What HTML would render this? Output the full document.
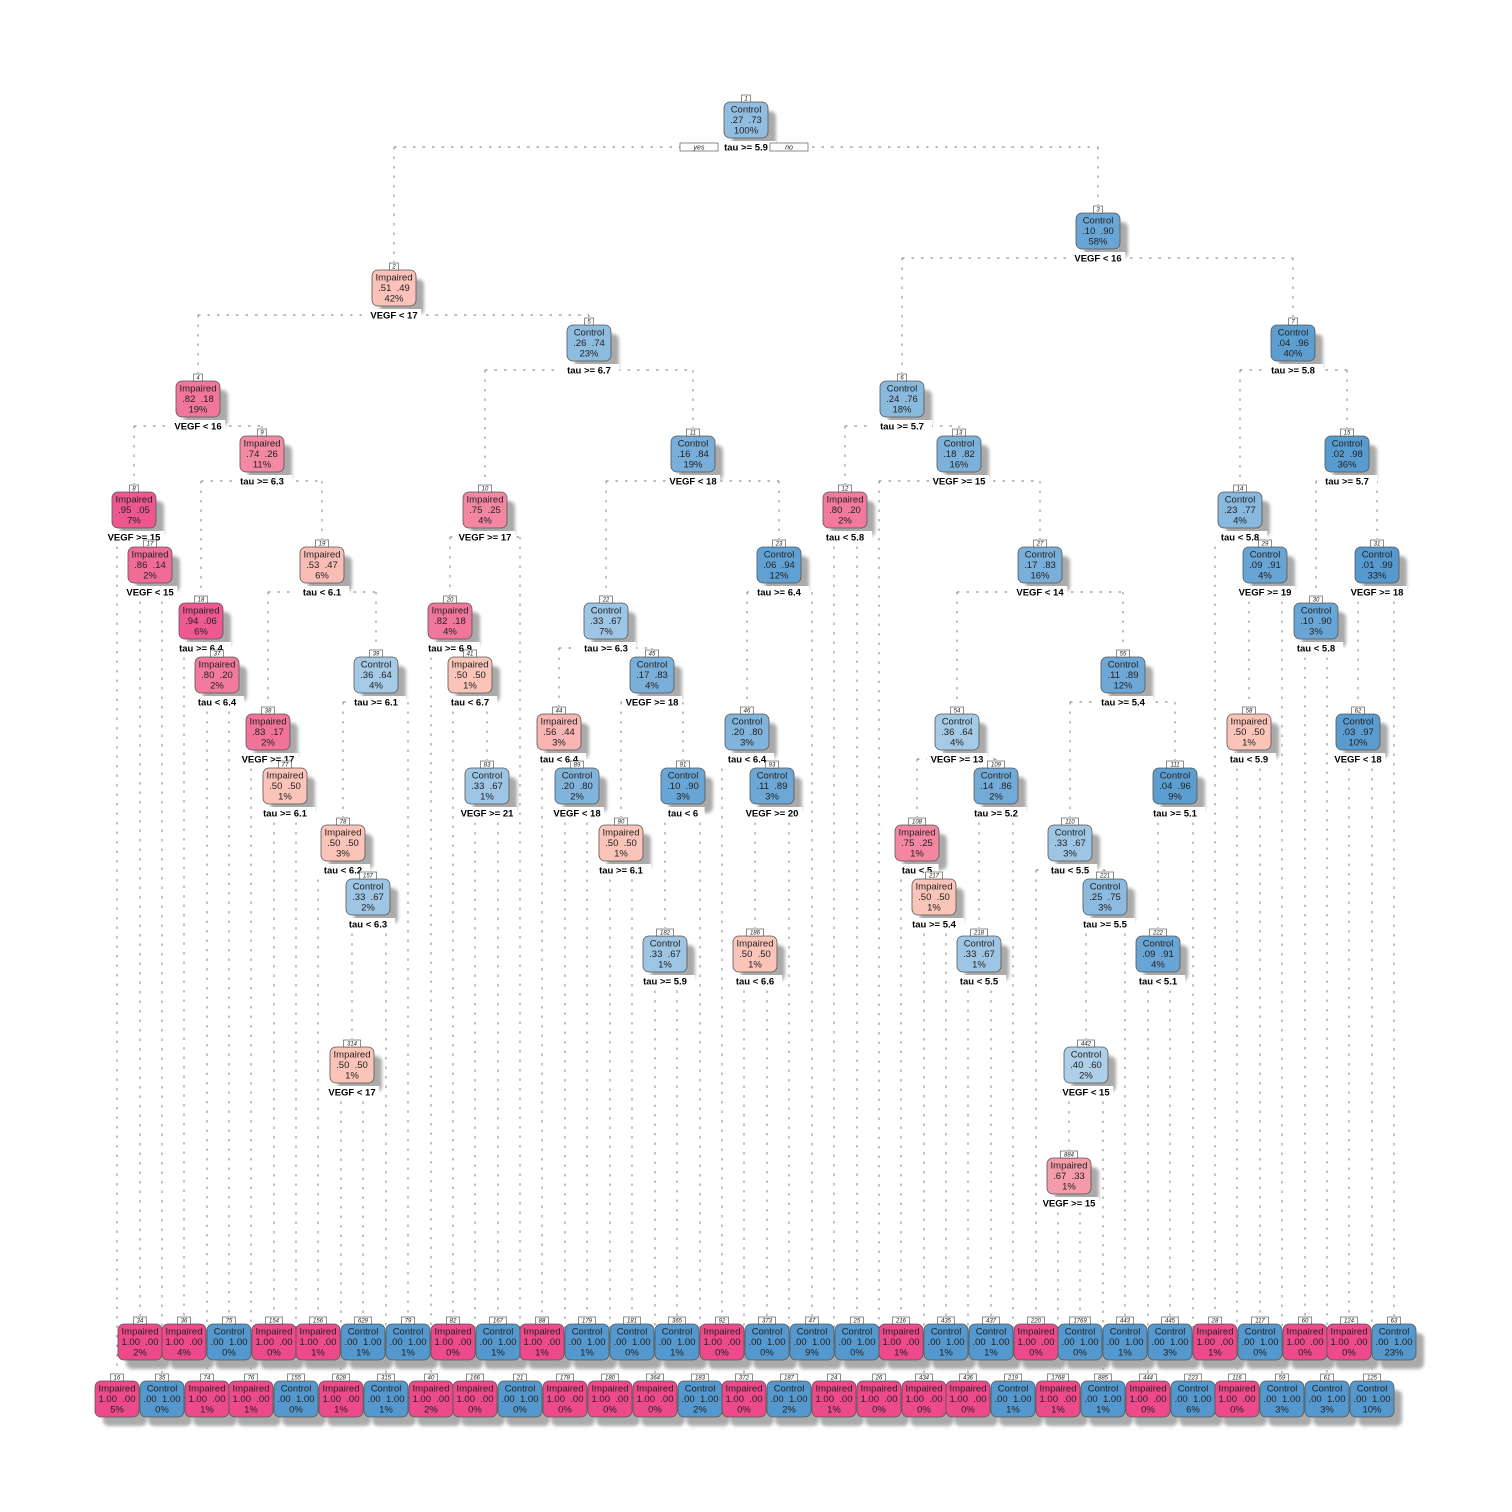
<!DOCTYPE html>
<html><head><meta charset="utf-8">
<style>
html,body{margin:0;padding:0;background:#fff;}
svg{display:block;font-family:"Liberation Sans",sans-serif;}
text{white-space:pre;}
</style></head>
<body>
<svg id="tree" width="1512" height="1512" viewBox="0 0 1512 1512">
<defs><filter id="blur" x="-20%" y="-20%" width="140%" height="140%"><feGaussianBlur stdDeviation="1.5"/></filter></defs>
<g id="edges"></g>
<g id="shadows"></g>
<g id="nodes"></g>
</svg>
<script>
const nodeIds   = [1,2,3,4,5,6,7,8,9,10,11,12,13,14,15,17,18,19,20,23,22,27,29,30,31,37,38,39,41,44,45,46,54,55,58,62,77,78,83,89,90,91,93,108,109,110,111,157,182,186,217,218,221,222,314,442,884];
const nodeClass = ["C","I","C","I","C","C","C","I","I","I","C","I","C","C","C","I","I","I","I","C","C","C","C","C","C","I","I","C","I","I","C","C","C","C","I","C","I","I","C","C","I","C","C","I","C","C","C","C","C","I","I","C","C","C","I","C","I"];
const nodeP1    = [".27",".51",".10",".82",".26",".24",".04",".95",".74",".75",".16",".80",".18",".23",".02",".86",".94",".53",".82",".06",".33",".17",".09",".10",".01",".80",".83",".36",".50",".56",".17",".20",".36",".11",".50",".03",".50",".50",".33",".20",".50",".10",".11",".75",".14",".33",".04",".33",".33",".50",".50",".33",".25",".09",".50",".40",".67"];
const nodeP2    = [".73",".49",".90",".18",".74",".76",".96",".05",".26",".25",".84",".20",".82",".77",".98",".14",".06",".47",".18",".94",".67",".83",".91",".90",".99",".20",".17",".64",".50",".44",".83",".80",".64",".89",".50",".97",".50",".50",".67",".80",".50",".90",".89",".25",".86",".67",".96",".67",".67",".50",".50",".67",".75",".91",".50",".60",".33"];
const nodePct   = ["100%","42%","58%","19%","23%","18%","40%","7%","11%","4%","19%","2%","16%","4%","36%","2%","6%","6%","4%","12%","7%","16%","4%","3%","33%","2%","2%","4%","1%","3%","4%","3%","4%","12%","1%","10%","1%","3%","1%","2%","1%","3%","3%","1%","2%","3%","9%","2%","1%","1%","1%","1%","3%","4%","1%","2%","1%"];
const nodeSplit = ["tau >= 5.9","VEGF < 17","VEGF < 16","VEGF < 16","tau >= 6.7","tau >= 5.7","tau >= 5.8","VEGF >= 15","tau >= 6.3","VEGF >= 17","VEGF < 18","tau < 5.8","VEGF >= 15","tau < 5.8","tau >= 5.7","VEGF < 15","tau >= 6.4","tau < 6.1","tau >= 6.9","tau >= 6.4","tau >= 6.3","VEGF < 14","VEGF >= 19","tau < 5.8","VEGF >= 18","tau < 6.4","VEGF >= 17","tau >= 6.1","tau < 6.7","tau < 6.4","VEGF >= 18","tau < 6.4","VEGF >= 13","tau >= 5.4","tau < 5.9","VEGF < 18","tau >= 6.1","tau < 6.2","VEGF >= 21","VEGF < 18","tau >= 6.1","tau < 6","VEGF >= 20","tau < 5","tau >= 5.2","tau < 5.5","tau >= 5.1","tau < 6.3","tau >= 5.9","tau < 6.6","tau >= 5.4","tau < 5.5","tau >= 5.5","tau < 5.1","VEGF < 17","VEGF < 15","VEGF >= 15"];
const nodeX     = [746,394,1098,198,589,902,1293,134,262,485,693,845,959,1240,1347,150,201,322,450,779,606,1040,1265,1316,1377,217,268,376,470,559,652,747,957,1123,1249,1358,285,343,487,577,621,683,772,917,996,1070,1175,368,665,755,934,979,1105,1158,352,1086,1069];
const nodeY     = [110,278,221,389,333,389,333,500,444,500,444,500,444,500,444,555,611,555,611,555,611,555,555,611,555,665,722,665,665,722,665,722,722,665,722,722,776,833,776,776,833,776,776,833,776,833,776,887,944,944,887,944,887,944,1055,1055,1166];
const leafIds   = [34,36,75,154,156,629,79,82,167,88,179,181,365,92,373,47,25,216,435,437,220,1769,443,445,28,117,60,124,63,
                   16,35,74,76,155,628,315,40,166,21,178,180,364,183,372,187,24,26,434,436,219,1768,885,444,223,116,59,61,125];
const leafClass = ["I","I","C","I","I","C","C","I","C","I","C","C","C","I","C","C","C","I","C","C","I","C","C","C","I","C","I","I","C",
                   "I","C","I","I","C","I","C","I","I","C","I","I","I","C","I","C","I","I","I","I","C","I","C","I","C","I","C","C","C"];
const leafPct   = ["2%","4%","0%","0%","1%","1%","1%","0%","1%","1%","1%","0%","1%","0%","0%","9%","0%","1%","1%","1%","0%","0%","1%","3%","1%","0%","0%","0%","23%",
                   "5%","0%","1%","1%","0%","1%","1%","2%","0%","0%","0%","0%","0%","2%","0%","2%","1%","0%","0%","0%","1%","1%","1%","0%","6%","0%","3%","3%","10%"];
const leafRow   = [0,0,0,0,0,0,0,0,0,0,0,0,0,0,0,0,0,0,0,0,0,0,0,0,0,0,0,0,0,
                   1,1,1,1,1,1,1,1,1,1,1,1,1,1,1,1,1,1,1,1,1,1,1,1,1,1,1,1,1];
const leafX     = [140,184,229,274,318,363,408,453,498,542,587,632,677,722,767,812,857,901,946,991,1036,1080,1125,1170,1215,1260,1305,1349,1394,
                   117,162,207,251,296,341,386,431,475,520,565,610,655,700,744,789,834,879,924,968,1013,1058,1103,1148,1193,1237,1282,1327,1372];
const rowY = [1332,1389];

const NS="http://www.w3.org/2000/svg";
const E=document.getElementById('edges'),S=document.getElementById('shadows'),N=document.getElementById('nodes');
function mk(tag,attrs,parent){const e=document.createElementNS(NS,tag);for(const k in attrs)e.setAttribute(k,attrs[k]);parent.appendChild(e);return e;}
function lerp(a,b,t){return a.map((v,i)=>Math.round(v+(b[i]-v)*t));}
function color(cls,p){
  const t=Math.max(0,Math.min(1,(parseFloat(p)-0.5)/0.5));
  const c= cls==="I"? lerp([250,196,185],[236,74,138],t) : lerp([196,221,239],[84,152,206],t);
  return "rgb("+c.join(",")+")";
}
const pos={};
nodeIds.forEach((id,i)=>{pos[id]={x:nodeX[i],y:nodeY[i]};});
leafIds.forEach((id,i)=>{pos[id]={x:leafX[i],y:rowY[leafRow[i]]};});

function drawBox(id,x,ty,cls,l1,l2,l3,pClass,name){
  const w=44,h=36,top=ty-8;
  const sh=mk('rect',{x:x-w/2+8,y:top+9,width:w,height:h,rx:6,fill:'#aaaaaa',filter:'url(#blur)'},S);
  
  
  const g=mk('g',{},N);
  
  
  mk('rect',{x:x-w/2,y:top,width:w,height:h,rx:6,fill:color(cls,pClass),stroke:'#555',"stroke-width":0.8},g);
  const nb=String(id);const nw=nb.length*4+5;
  mk('rect',{x:x-nw/2,y:top-7,width:nw,height:7,fill:'#fff',stroke:'#444',"stroke-width":0.6},g);
  const nt=mk('text',{x:x,y:top-1.3,"font-size":6,"font-style":"italic","text-anchor":"middle",fill:'#222'},g);nt.textContent=nb;
  [l1,l2,l3].forEach((s,k)=>{const t=mk('text',{x:x,y:top+10.5+k*10.5,"font-size":9.5,"text-anchor":"middle",fill:'#222'},g);t.textContent=s;});
}
function dash(x1,y1,x2,y2){mk('line',{x1,y1,x2,y2,stroke:'#777',"stroke-width":0.9,"stroke-dasharray":"2.5,7"},E);}

nodeIds.forEach((id,i)=>{
  const p=pos[id],L=pos[2*id],R=pos[2*id+1];
  if(!L||!R) return;
  const sy=p.y+37;
  dash(L.x,sy,R.x,sy);
  dash(L.x,sy,L.x,L.y-16);
  dash(R.x,sy,R.x,R.y-16);
});
nodeIds.forEach((id,i)=>{
  const cls=nodeClass[i];
  const pc= cls==="I"?nodeP1[i]:nodeP2[i];
  drawBox(id,nodeX[i],nodeY[i],cls,cls==="I"?"Impaired":"Control",nodeP1[i]+"  "+nodeP2[i],nodePct[i],pc,"node-"+id);
  const sy=nodeY[i]+37;
  const s=nodeSplit[i];const w=s.length*5.6+4;
  const g=mk('g',{},N);
  
  
  mk('rect',{x:nodeX[i]-w/2,y:sy-6,width:w,height:11,fill:'#fff'},g);
  const t=mk('text',{x:nodeX[i],y:sy+3.5,"font-size":9.5,"font-weight":"bold","text-anchor":"middle",fill:'#000'},g);t.textContent=s;
});
[["yes",699],["no",789]].forEach(([s,x])=>{
  const g=mk('g',{},N);
  
  
  mk('rect',{x:x-19,y:143,width:38,height:8,fill:'#fff',stroke:'#444',"stroke-width":0.6},g);
  const t=mk('text',{x:x,y:149.5,"font-size":7,"font-style":"italic","text-anchor":"middle",fill:'#222'},g);t.textContent=s;
});
leafIds.forEach((id,i)=>{
  const cls=leafClass[i];
  drawBox(id,leafX[i],rowY[leafRow[i]],cls,cls==="I"?"Impaired":"Control",cls==="I"?"1.00  .00":".00  1.00",leafPct[i],"1.00","leaf-"+id);
});
</script>
</body></html>
